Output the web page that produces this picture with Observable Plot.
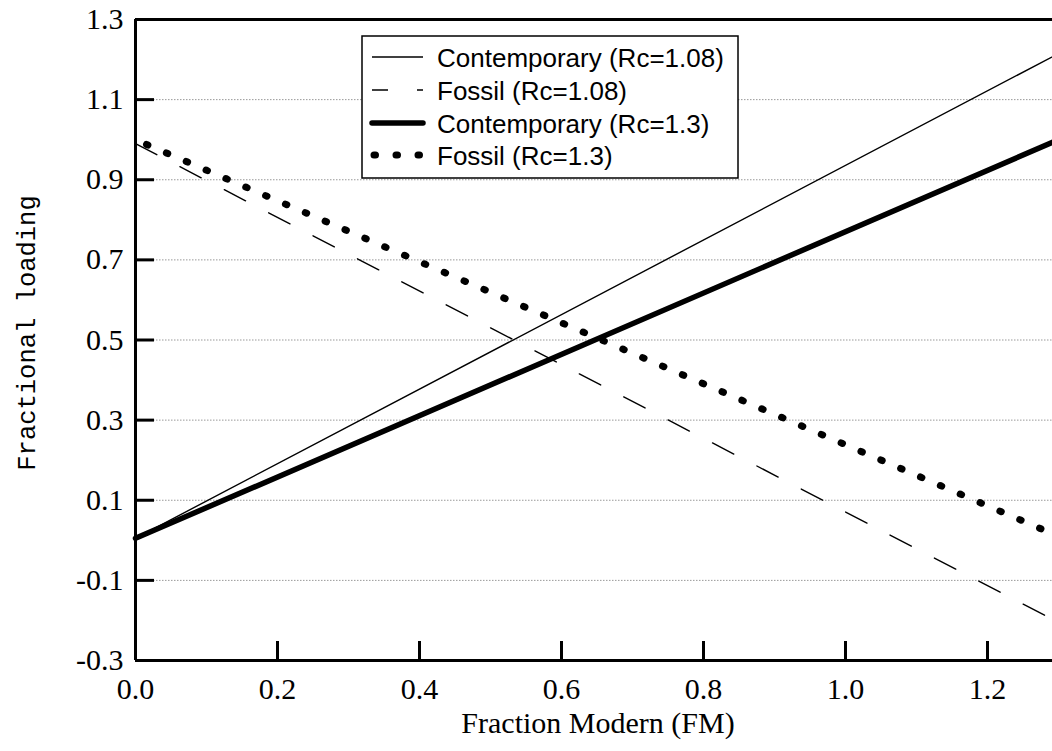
<!DOCTYPE html>
<html>
<head>
<meta charset="utf-8">
<script src="https://cdn.jsdelivr.net/npm/d3@7"></script>
<script src="https://cdn.jsdelivr.net/npm/@observablehq/plot@0.6"></script>
<style>
  html, body { margin: 0; padding: 0; background: #fff; overflow: hidden; }
  #chart { position: relative; width: 1052px; height: 751px; }
</style>
</head>
<body>
<div id="chart"></div>
<script>
// ---- data ----
const fm = [0, 1.3];                       // Fraction Modern endpoints
const contemporary108 = [0.005, 1.215];    // Contemporary (Rc=1.08)
const fossil108 = [0.99, -0.205];          // Fossil (Rc=1.08)
const contemporary13 = [0.005, 1.0];       // Contemporary (Rc=1.3)
const fossil13 = [1.0, 0.01];              // Fossil (Rc=1.3)

const seriesNames = [
  "Contemporary (Rc=1.08)",
  "Fossil (Rc=1.08)",
  "Contemporary (Rc=1.3)",
  "Fossil (Rc=1.3)"
];
const xTicks = [0.0, 0.2, 0.4, 0.6, 0.8, 1.0, 1.2];
const yTicks = [-0.3, -0.1, 0.1, 0.3, 0.5, 0.7, 0.9, 1.1, 1.3];
const yGrid = [-0.1, 0.1, 0.3, 0.5, 0.7, 0.9, 1.1];
const xTitle = "Fraction Modern (FM)";
const yTitle = "Fractional loading";

// ---- table built from arrays ----
const allSeries = [contemporary108, fossil108, contemporary13, fossil13];
const rows = [];
allSeries.forEach((vals, s) => vals.forEach((v, i) => rows.push({series: seriesNames[s], fm: fm[i], y: v})));
const sel = name => rows.filter(r => r.series === name);

const styles = [
  {strokeWidth: 1.4},
  {strokeWidth: 1.4, strokeDasharray: "24,26"},
  {strokeWidth: 5.5},
  {strokeWidth: 7, strokeDasharray: "1.5,20.1", strokeLinecap: "round", strokeDashoffset: -12}
];

const W = 1052, H = 751, ML = 135, MT = 19, MB = 91;
const serif = "'Liberation Serif', 'Times New Roman', serif";

const svg = Plot.plot({
  width: W,
  height: H,
  marginLeft: ML,
  marginRight: 0,
  marginTop: MT,
  marginBottom: MB,
  style: {overflow: "hidden", background: "#fff", fontFamily: serif},
  x: {domain: [0, 1.3], range: [ML, 1058]},
  y: {domain: [-0.3, 1.3]},
  marks: [
    Plot.gridY(yGrid, {stroke: "#999", strokeOpacity: 1, strokeWidth: 1, strokeDasharray: "1.5,1.5"}),
    ...seriesNames.map((name, i) =>
      Plot.line(sel(name), {x: "fm", y: "y", stroke: "#000", ...styles[i]})
    ),
    // frame
    Plot.ruleY([-0.3, 1.3], {stroke: "#000", strokeWidth: 3}),
    Plot.ruleX([0], {stroke: "#000", strokeWidth: 3}),
    // inward ticks
    Plot.tickY(yTicks, {y: d => d, stroke: "#000", strokeWidth: 3, insetRight: W - ML - 19}),
    Plot.tickX(xTicks, {x: d => d, stroke: "#000", strokeWidth: 3, insetTop: (H - MB - MT) - 19}),
    // tick labels
    Plot.axisY(yTicks, {tickSize: 0, tickPadding: 12, tickFormat: d => d.toFixed(1), fontSize: 30, fontFamily: serif, fill: "#000", label: null}),
    Plot.axisX(xTicks, {tickSize: 0, tickPadding: 17, tickFormat: d => d.toFixed(1), fontSize: 30, fontFamily: serif, fill: "#000", label: null}),
    // x axis title
    Plot.text([xTitle], {text: d => d, frameAnchor: "bottom", dy: 72, dx: 4, fontSize: 30, fontFamily: serif, fill: "#000"})
  ]
});

document.getElementById("chart").appendChild(svg);

// ---- y axis title ----
d3.select(svg).append("text")
  .attr("transform", "translate(28,333) rotate(-90)")
  .attr("text-anchor", "middle")
  .attr("dominant-baseline", "central")
  .attr("font-family", "'Liberation Mono', 'Courier New', monospace")
  .attr("font-size", 25.5)
  .attr("fill", "#000")
  .text(yTitle);

// ---- legend box ----
const lg = d3.select(svg).append("g").attr("class", "legend").attr("text-anchor", "start");
const bx = 362, by = 36, bw = 376, bh = 142;
lg.append("rect").attr("x", bx).attr("y", by).attr("width", bw).attr("height", bh)
  .attr("fill", "#fff").attr("stroke", "#000").attr("stroke-width", 1.5);
const rowY = [57, 90, 123, 155];
const legendStyles = [
  {w: 1.4},
  {w: 1.4, dash: "16,29"},
  {w: 5.5},
  {w: 7, dash: "1.5,20.5", cap: "round"}
];
seriesNames.forEach((name, i) => {
  const st = legendStyles[i];
  const ln = lg.append("line")
    .attr("x1", 372).attr("x2", 423).attr("y1", rowY[i]).attr("y2", rowY[i])
    .attr("stroke", "#000").attr("stroke-width", st.w);
  if (st.dash) ln.attr("stroke-dasharray", st.dash);
  if (st.cap) { ln.attr("stroke-linecap", st.cap).attr("x1", 374).attr("x2", 422); }
  else if (i === 2) ln.attr("stroke-linecap", "round");
  lg.append("text").attr("x", 437).attr("y", rowY[i] + 10)
    .attr("text-anchor", "start")
    .attr("font-family", "'Liberation Sans', Arial, sans-serif").attr("font-size", 26)
    .attr("fill", "#000").text(name);
});
</script>
</body>
</html>
